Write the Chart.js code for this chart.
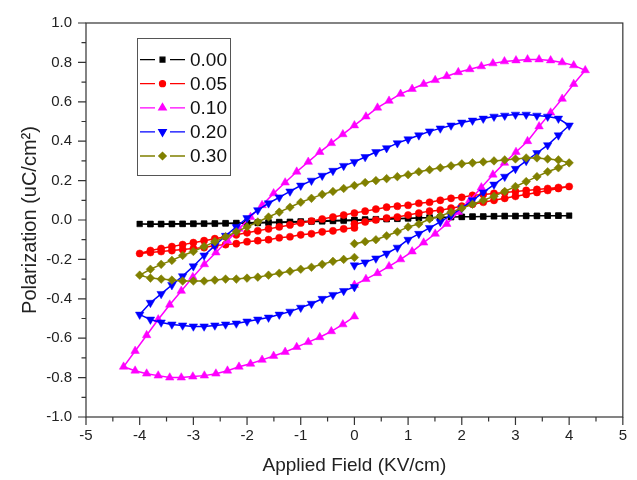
<!DOCTYPE html>
<html>
<head>
<meta charset="utf-8">
<script src="https://cdn.jsdelivr.net/npm/chart.js@4.4.1/dist/chart.umd.min.js"></script>
<style>
  html, body { margin: 0; padding: 0; background: #fff; }
  #pe_chart { display: block; }
</style>
</head>
<body>
<canvas id="pe_chart" width="637" height="480"></canvas>
<script>
// Field sweep (kV/cm) used for 0.00, 0.05, 0.20 and 0.30: 0 -> +Emax -> -Emax -> 0
const fieldRise = [0, 0.2, 0.4, 0.6, 0.8, 1.0, 1.2, 1.4, 1.6, 1.8, 2.0, 2.2, 2.4, 2.6, 2.8, 3.0, 3.2, 3.4, 3.6, 3.8, 4.0];
const fieldFall = [3.8, 3.6, 3.4, 3.2, 3.0, 2.8, 2.6, 2.4, 2.2, 2.0, 1.8, 1.6, 1.4, 1.2, 1.0, 0.8, 0.6, 0.4, 0.2, 0,
  -0.2, -0.4, -0.6, -0.8, -1.0, -1.2, -1.4, -1.6, -1.8, -2.0, -2.2, -2.4, -2.6, -2.8, -3.0, -3.2, -3.4, -3.6, -3.8, -4.0];
const fieldBack = [-3.8, -3.6, -3.4, -3.2, -3.0, -2.8, -2.6, -2.4, -2.2, -2.0, -1.8, -1.6, -1.4, -1.2, -1.0, -0.8, -0.6, -0.4, -0.2, 0];

// The 0.10 sample was swept a bit further
const wideRise = [0, 0.215, 0.43, 0.645, 0.86, 1.075, 1.29, 1.505, 1.72, 1.935, 2.15, 2.365, 2.58, 2.795, 3.01, 3.225, 3.44, 3.655, 3.87, 4.085, 4.3];
const wideFall = [4.085, 3.87, 3.655, 3.44, 3.225, 3.01, 2.795, 2.58, 2.365, 2.15, 1.935, 1.72, 1.505, 1.29, 1.075, 0.86, 0.645, 0.43, 0.215, 0,
  -0.215, -0.43, -0.645, -0.86, -1.075, -1.29, -1.505, -1.72, -1.935, -2.15, -2.365, -2.58, -2.795, -3.01, -3.225, -3.44, -3.655, -3.87, -4.085, -4.3];
const wideBack = [-4.085, -3.87, -3.655, -3.44, -3.225, -3.01, -2.795, -2.58, -2.365, -2.15, -1.935, -1.72, -1.505, -1.29, -1.075, -0.86, -0.645, -0.43, -0.215, 0];

// Polarization (uC/cm2), one array per branch
const p000Rise = [-0.002, 0.0, 0.002, 0.004, 0.006, 0.008, 0.01, 0.012, 0.013, 0.015, 0.016, 0.017, 0.018, 0.019, 0.02, 0.02, 0.021, 0.021, 0.022, 0.022, 0.022];
const p000Fall = [0.022, 0.022, 0.021, 0.021, 0.02, 0.02, 0.019, 0.018, 0.017, 0.016, 0.015, 0.014, 0.012, 0.011, 0.009, 0.008, 0.006, 0.004, 0.003, 0.001,
  -0.001, -0.003, -0.004, -0.006, -0.007, -0.009, -0.01, -0.012, -0.013, -0.014, -0.015, -0.016, -0.017, -0.018, -0.018, -0.019, -0.019, -0.02, -0.02, -0.02];
const p000Back = [-0.021, -0.021, -0.021, -0.02, -0.02, -0.019, -0.019, -0.018, -0.017, -0.016, -0.015, -0.014, -0.013, -0.011, -0.01, -0.008, -0.007, -0.005, -0.004, -0.002];

const p005Rise = [-0.02, -0.01, 0.0, 0.01, 0.015, 0.025, 0.035, 0.045, 0.05, 0.06, 0.07, 0.08, 0.09, 0.10, 0.11, 0.12, 0.13, 0.14, 0.15, 0.16, 0.17];
const p005Fall = [0.165, 0.16, 0.155, 0.15, 0.145, 0.14, 0.135, 0.13, 0.125, 0.115, 0.11, 0.10, 0.09, 0.085, 0.075, 0.07, 0.065, 0.055, 0.045, 0.035,
  0.025, 0.015, 0.005, -0.005, -0.015, -0.025, -0.035, -0.045, -0.055, -0.065, -0.075, -0.085, -0.095, -0.105, -0.115, -0.125, -0.135, -0.145, -0.155, -0.17];
const p005Back = [-0.165, -0.16, -0.155, -0.15, -0.145, -0.14, -0.13, -0.125, -0.12, -0.11, -0.105, -0.10, -0.09, -0.085, -0.075, -0.07, -0.06, -0.055, -0.045, -0.04];

const p010Rise = [-0.33, -0.30, -0.27, -0.235, -0.20, -0.16, -0.115, -0.07, -0.02, 0.04, 0.10, 0.165, 0.23, 0.29, 0.345, 0.40, 0.475, 0.545, 0.615, 0.69, 0.76];
const p010Fall = [0.785, 0.80, 0.81, 0.815, 0.815, 0.81, 0.805, 0.795, 0.78, 0.765, 0.75, 0.73, 0.71, 0.69, 0.665, 0.64, 0.605, 0.57, 0.525, 0.48,
  0.435, 0.39, 0.345, 0.295, 0.245, 0.19, 0.135, 0.075, 0.015, -0.045, -0.105, -0.165, -0.225, -0.29, -0.36, -0.43, -0.505, -0.585, -0.665, -0.745];
const p010Back = [-0.765, -0.78, -0.79, -0.80, -0.80, -0.795, -0.79, -0.78, -0.765, -0.745, -0.73, -0.71, -0.69, -0.67, -0.645, -0.62, -0.595, -0.565, -0.53, -0.49];

const p020Rise = [-0.23, -0.215, -0.195, -0.17, -0.14, -0.10, -0.07, -0.04, -0.01, 0.025, 0.06, 0.10, 0.14, 0.18, 0.22, 0.26, 0.30, 0.34, 0.38, 0.43, 0.48];
const p020Fall = [0.515, 0.525, 0.53, 0.535, 0.535, 0.53, 0.525, 0.515, 0.505, 0.495, 0.48, 0.465, 0.45, 0.43, 0.41, 0.39, 0.365, 0.345, 0.32, 0.295,
  0.275, 0.25, 0.225, 0.20, 0.175, 0.145, 0.115, 0.085, 0.05, 0.01, -0.035, -0.08, -0.13, -0.18, -0.235, -0.285, -0.33, -0.375, -0.42, -0.48];
const p020Back = [-0.505, -0.52, -0.53, -0.535, -0.54, -0.54, -0.535, -0.53, -0.525, -0.515, -0.505, -0.495, -0.48, -0.465, -0.445, -0.425, -0.40, -0.38, -0.36, -0.34];

const p030Rise = [-0.12, -0.11, -0.10, -0.08, -0.06, -0.035, -0.02, 0.005, 0.02, 0.04, 0.06, 0.08, 0.10, 0.12, 0.145, 0.17, 0.195, 0.22, 0.245, 0.265, 0.29];
const p030Fall = [0.305, 0.31, 0.315, 0.315, 0.31, 0.305, 0.30, 0.295, 0.29, 0.285, 0.275, 0.265, 0.255, 0.245, 0.23, 0.22, 0.21, 0.20, 0.19, 0.175,
  0.16, 0.145, 0.13, 0.11, 0.09, 0.065, 0.04, 0.015, -0.01, -0.035, -0.06, -0.085, -0.11, -0.135, -0.16, -0.18, -0.205, -0.225, -0.25, -0.28];
const p030Back = [-0.295, -0.30, -0.305, -0.31, -0.31, -0.31, -0.305, -0.30, -0.30, -0.295, -0.29, -0.28, -0.27, -0.26, -0.25, -0.24, -0.225, -0.21, -0.20, -0.19];

const seriesLabels = ["0.00", "0.05", "0.10", "0.20", "0.30"];
const fieldTicks = [-5, -4, -3, -2, -1, 0, 1, 2, 3, 4, 5];
const polTicks = [-1.0, -0.8, -0.6, -0.4, -0.2, 0.0, 0.2, 0.4, 0.6, 0.8, 1.0];

const FONT = "'Liberation Sans', Arial, sans-serif";
const INK = "#222";

// glue the three branches of a loop into {x, y} points
const loop = (fields, values) => {
  const pts = [];
  fields.forEach((f, b) => f.forEach((x, i) => pts.push({ x, y: values[b][i] })));
  return pts;
};

const styles = [
  { color: "#000000", pointStyle: "rect", radius: 4, rotation: 0 },
  { color: "#ff0000", pointStyle: "circle", radius: 3.6, rotation: 0 },
  { color: "#ff00ff", pointStyle: "triangle", radius: 4.9, rotation: 0 },
  { color: "#0000ff", pointStyle: "triangle", radius: 4.9, rotation: 180 },
  { color: "#808000", pointStyle: "rectRot", radius: 4.3, rotation: 0 },
];

const normal = [fieldRise, fieldFall, fieldBack];
const wide = [wideRise, wideFall, wideBack];
const loops = [
  loop(normal, [p000Rise, p000Fall, p000Back]),
  loop(normal, [p005Rise, p005Fall, p005Back]),
  loop(wide, [p010Rise, p010Fall, p010Back]),
  loop(normal, [p020Rise, p020Fall, p020Back]),
  loop(normal, [p030Rise, p030Fall, p030Back]),
];

const datasets = loops.map((pts, i) => ({
  label: seriesLabels[i],
  data: pts,
  showLine: true,
  borderColor: styles[i].color,
  backgroundColor: styles[i].color,
  borderWidth: 1.5,
  pointStyle: styles[i].pointStyle,
  pointRotation: styles[i].rotation,
  pointRadius: styles[i].radius,
  pointBorderWidth: 0.5,
  tension: 0,
  order: 5 - i, // last series ends up on top
}));

// box around the plot, ticks outward on left and bottom only
const axisFrame = {
  id: "axisFrame",
  afterDraw(chart) {
    const { ctx, chartArea: a, scales } = chart;
    const x = scales.x, y = scales.y;
    ctx.save();
    ctx.strokeStyle = "#333";
    ctx.lineWidth = 1.2;
    ctx.strokeRect(a.left, a.top, a.right - a.left, a.bottom - a.top);
    ctx.beginPath();
    x.ticks.forEach((t, i) => {
      const px = x.getPixelForValue(t.value);
      ctx.moveTo(px, a.bottom);
      ctx.lineTo(px, a.bottom + 8);
      if (i < x.ticks.length - 1) {
        const mx = x.getPixelForValue((t.value + x.ticks[i + 1].value) / 2);
        ctx.moveTo(mx, a.bottom);
        ctx.lineTo(mx, a.bottom + 4.5);
      }
    });
    y.ticks.forEach((t, i) => {
      const py = y.getPixelForValue(t.value);
      ctx.moveTo(a.left, py);
      ctx.lineTo(a.left - 8, py);
      if (i < y.ticks.length - 1) {
        const my = y.getPixelForValue((t.value + y.ticks[i + 1].value) / 2);
        ctx.moveTo(a.left, my);
        ctx.lineTo(a.left - 4.5, my);
      }
    });
    ctx.stroke();
    ctx.restore();
  },
};

// legend box inside the plot, upper left
const boxLegend = {
  id: "boxLegend",
  afterDraw(chart) {
    const { ctx, chartArea: a } = chart;
    const left = a.left + 51, top = a.top + 15;
    ctx.save();
    ctx.strokeStyle = "#555";
    ctx.lineWidth = 1;
    ctx.strokeRect(left + 0.5, top + 0.5, 93, 137);
    chart.data.datasets.forEach((ds, i) => {
      const cy = top + 21.6 + i * 24.1;
      ctx.strokeStyle = ds.borderColor;
      ctx.fillStyle = ds.backgroundColor;
      ctx.lineWidth = 1.3;
      ctx.beginPath();
      ctx.moveTo(left + 3, cy);
      ctx.lineTo(left + 18, cy);
      ctx.moveTo(left + 33, cy);
      ctx.lineTo(left + 48, cy);
      ctx.stroke();
      Chart.helpers.drawPoint(ctx, {
        pointStyle: ds.pointStyle,
        rotation: ds.pointRotation,
        radius: ds.pointRadius - 0.6,
        borderWidth: 0.5,
      }, left + 25.5, cy);
      ctx.fillStyle = "#111";
      ctx.font = "19px " + FONT;
      ctx.textAlign = "left";
      ctx.textBaseline = "middle";
      ctx.fillText(ds.label, left + 53, cy + 1);
    });
    ctx.restore();
  },
};

const peChart = new Chart(document.getElementById("pe_chart"), {
  type: "scatter",
  data: { datasets },
  options: {
    responsive: false,
    animation: false,
    events: [],
    layout: { padding: { top: 15, right: 11, left: 0, bottom: 0 } },
    plugins: {
      legend: { display: false },
      tooltip: { enabled: false },
    },
    scales: {
      x: {
        type: "linear",
        min: -5,
        max: 5,
        afterBuildTicks: (s) => { s.ticks = fieldTicks.map((v) => ({ value: v })); },
        afterFit: (s) => { s.height = 63; },
        grid: { display: false, drawTicks: false },
        border: { display: false },
        ticks: {
          padding: 10,
          color: INK,
          autoSkip: false,
          maxRotation: 0,
          font: { size: 15, family: FONT },
          callback: (v) => String(v),
        },
        title: {
          display: true,
          text: "Applied Field (KV/cm)",
          color: INK,
          font: { size: 19, family: FONT },
          padding: { top: 0, bottom: 3 },
        },
      },
      y: {
        type: "linear",
        min: -1,
        max: 1,
        afterBuildTicks: (s) => { s.ticks = polTicks.map((v) => ({ value: v })); },
        afterFit: (s) => { s.width = 86; },
        grid: { display: false, drawTicks: false },
        border: { display: false },
        ticks: {
          padding: 14,
          color: INK,
          autoSkip: false,
          font: { size: 15, family: FONT },
          callback: (v) => Number(v).toFixed(1),
        },
        title: {
          display: true,
          text: "Polarization (uC/cm²)",
          color: INK,
          font: { size: 20, family: FONT },
          padding: { top: 18, bottom: 0 },
        },
      },
    },
  },
  plugins: [axisFrame, boxLegend],
});
</script>
</body>
</html>
